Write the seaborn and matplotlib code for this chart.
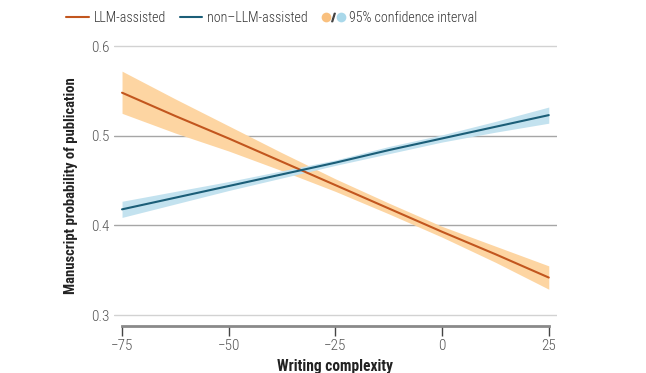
import numpy as np
import pandas as pd
import seaborn as sns
import matplotlib.pyplot as plt
from matplotlib.lines import Line2D
from matplotlib.legend_handler import HandlerTuple

# Values
complexity = [-75, -62.5, -50, -37.5, -25, -12.5, 0, 12.5, 25]
llm_prob = [0.548, 0.522, 0.497, 0.471, 0.445, 0.419, 0.393, 0.368, 0.342]
llm_low = [0.525, 0.503, 0.483, 0.461, 0.438, 0.413, 0.387, 0.359, 0.329]
llm_high = [0.572, 0.541, 0.511, 0.481, 0.452, 0.425, 0.399, 0.377, 0.355]
non_prob = [0.418, 0.431, 0.444, 0.457, 0.470, 0.484, 0.497, 0.510, 0.523]
non_low = [0.409, 0.424, 0.439, 0.453, 0.467, 0.480, 0.493, 0.504, 0.514]
non_high = [0.427, 0.438, 0.449, 0.461, 0.473, 0.488, 0.501, 0.516, 0.532]

y_ticks = [0.3, 0.4, 0.5, 0.6]
x_ticks = [-75, -50, -25, 0, 25]

llm_color = "#c2561e"
llm_band = "#fdd5a2"
non_color = "#1b5e78"
non_band = "#c3e2ef"

sns.set_style("white")
plt.rcParams["font.family"] = ["Roboto Condensed", "DejaVu Sans"]
plt.rcParams["axes.unicode_minus"] = True

df = pd.DataFrame({
    "x": complexity * 2,
    "y": llm_prob + non_prob,
    "group": ["LLM-assisted"] * len(complexity) + ["non\u2013LLM-assisted"] * len(complexity),
})

fig = plt.figure(figsize=(6.46, 3.73), dpi=100)
ax = fig.add_axes([0.1757, 0.126, 0.687, 0.753])

ax.fill_between(complexity, llm_low, llm_high, color=llm_band, lw=0, zorder=2)
ax.fill_between(complexity, non_low, non_high, color=non_band, lw=0, zorder=2)
sns.lineplot(data=df, x="x", y="y", hue="group", palette=[llm_color, non_color],
             lw=1.5, legend=False, ax=ax, zorder=3)

ax.set_xlim(-77, 27)
ax.set_ylim(0.288, 0.601)
ax.set_yticks(y_ticks)
ax.set_yticklabels([f"{t:.1f}" for t in y_ticks])
ax.set_xticks(x_ticks)
ax.set_xticklabels([str(t).replace("-", "\u2212") for t in x_ticks])
for t in y_ticks:
    edge = t in (y_ticks[0], y_ticks[-1])
    ax.axhline(t, color="#d2d2d2" if edge else "#a6a6a6", lw=1.0, zorder=1)
ax.tick_params(axis="y", left=False, length=0, pad=3, labelsize=11, labelcolor="#555555")
ax.tick_params(axis="x", bottom=True, length=7, width=1, color="#444444", pad=2,
               labelsize=11, labelcolor="#555555", direction="out")
for lbl in ax.get_xticklabels() + ax.get_yticklabels():
    lbl.set_fontweight("light")
for s in ["top", "right", "left"]:
    ax.spines[s].set_visible(False)
ax.spines["bottom"].set_bounds(-75, 25)
ax.spines["bottom"].set_color("#8a8a8a")
ax.spines["bottom"].set_linewidth(2.0)

ax.set_xlabel("Writing complexity", fontsize=11.2, fontweight="bold", labelpad=5,
              color="#222222")
ax.set_ylabel("Manuscript probability of publication", fontsize=10.5,
              fontweight="bold", labelpad=9, color="#222222")

h1 = Line2D([], [], color=llm_color, lw=1.5)
h2 = Line2D([], [], color=non_color, lw=1.5)
c1 = Line2D([], [], ls="", marker="o", ms=7, mec="none", color="#f9c07e")
sl = Line2D([], [], ls="", marker="$/$", ms=6, color="#444444")
c2 = Line2D([], [], ls="", marker="o", ms=7, mec="none", color="#a9d8ea")
leg = fig.legend([h1, h2, (c1, sl, c2)],
                 ["LLM-assisted", "non\u2013LLM-assisted", "95% confidence interval"],
                 handler_map={tuple: HandlerTuple(ndivide=None, pad=0)},
                 loc="center left", bbox_to_anchor=(0.083, 0.951), ncol=3, frameon=False,
                 fontsize=10.1, handlelength=1.6, handletextpad=0.35, columnspacing=1.0,
                 labelcolor="#333333")
for txt in leg.get_texts():
    txt.set_fontweight("light")

fig.savefig("out.png", dpi=100)
